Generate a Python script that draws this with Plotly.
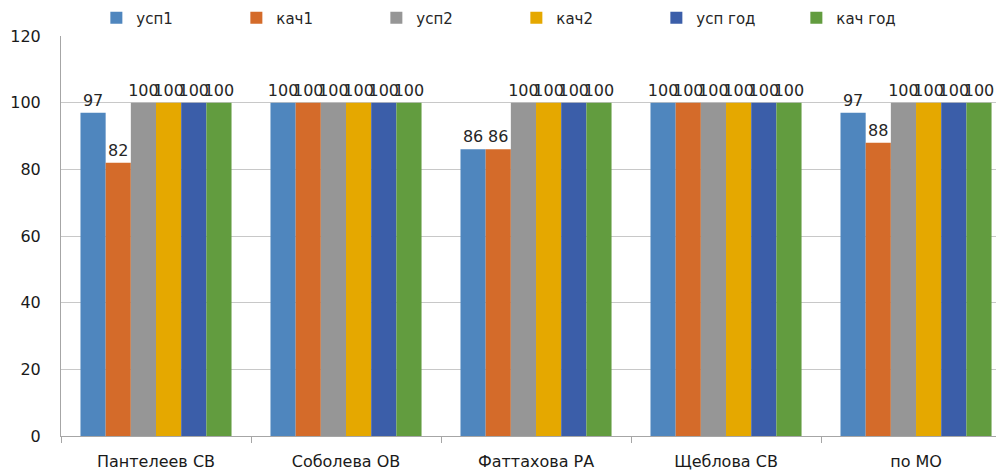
import plotly.graph_objects as go

categories = ["Пантелеев СВ", "Соболева ОВ", "Фаттахова РА", "Щеблова СВ", "по МО"]
series_names = ["усп1", "кач1", "усп2", "кач2", "усп год", "кач год"]
usp1 = [97, 100, 86, 100, 97]
kach1 = [82, 100, 86, 100, 88]
usp2 = [100, 100, 100, 100, 100]
kach2 = [100, 100, 100, 100, 100]
usp_god = [100, 100, 100, 100, 100]
kach_god = [100, 100, 100, 100, 100]
y_ticks = [0, 20, 40, 60, 80, 100, 120]

series_values = [usp1, kach1, usp2, kach2, usp_god, kach_god]
colors = ["#4F86BE", "#D46B2A", "#969696", "#E5A800", "#3B5EA9", "#629C3F"]

font = "DejaVu Sans, sans-serif"

fig = go.Figure()
for name, vals, color in zip(series_names, series_values, colors):
    fig.add_trace(
        go.Bar(
            x=categories,
            y=vals,
            name=name,
            marker={"color": color, "line": {"width": 0}},
            text=[str(v) for v in vals],
            textposition="outside",
            constraintext="none",
            cliponaxis=False,
            textfont={"size": 16, "color": "#262626", "family": font},
        )
    )

# page body has an 8px margin, so the figure is a bit smaller than the window
fig.update_layout(
    width=996,
    height=468,
    margin={"l": 53, "r": 0, "t": 28, "b": 40, "autoexpand": False},
    barmode="group",
    bargap=0.205,
    bargroupgap=0,
    plot_bgcolor="white",
    paper_bgcolor="white",
    font={"family": font, "size": 15, "color": "#262626"},
    legend={
        "orientation": "h",
        "x": 0.0375,
        "xanchor": "left",
        "y": 1.045,
        "yanchor": "middle",
        "entrywidth": 95,
        "entrywidthmode": "pixels",
        "font": {"size": 15},
        "itemwidth": 30,
        "bgcolor": "rgba(0,0,0,0)",
    },
    xaxis={
        "range": [-0.5, 4.463],
        "showline": True,
        "linecolor": "#A6A6A6",
        "ticks": "outside",
        "tickson": "boundaries",
        "tickcolor": "#A6A6A6",
        "ticklen": 6,
        "showgrid": False,
        "automargin": False,
        "tickfont": {"size": 16, "color": "#1a1a1a"},
        "ticklabelstandoff": 11,
    },
    yaxis={
        "range": [0, 120],
        "tickvals": y_ticks,
        "showline": True,
        "linecolor": "#A6A6A6",
        "showgrid": True,
        "gridcolor": "#C8C8C8",
        "zeroline": False,
        "ticks": "",
        "automargin": False,
        "tickfont": {"size": 16, "color": "#1a1a1a"},
        "ticklabelstandoff": 16,
    },
)

fig.write_html("out.html")
